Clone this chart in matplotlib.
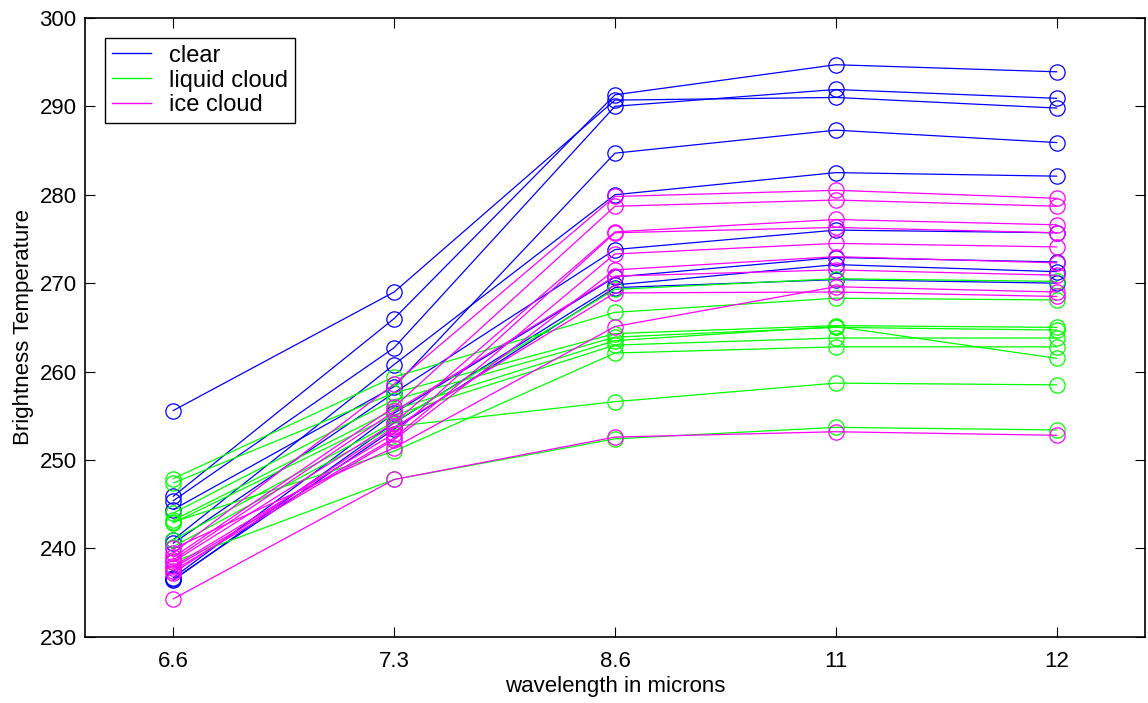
import numpy as np
import matplotlib
matplotlib.use("Agg")
import matplotlib.pyplot as plt
from matplotlib.lines import Line2D

plt.rcParams['font.family'] = ['Liberation Sans', 'DejaVu Sans']

# channel wavelengths (microns), shown as categories
wavelengths = ['6.6', '7.3', '8.6', '11', '12']

# brightness temperatures (K), one row per sample
clear = [
    [255.6, 269.0, 290.7, 291.0, 289.8],
    [245.9, 266.0, 291.3, 294.7, 293.9],
    [245.4, 262.7, 290.0, 291.9, 290.9],
    [244.4, 258.3, 284.7, 287.3, 285.9],
    [241.0, 260.8, 280.0, 282.5, 282.1],
    [240.6, 257.6, 273.8, 276.0, 275.7],
    [236.7, 255.3, 270.7, 272.9, 272.4],
    [236.4, 254.2, 269.8, 272.1, 271.3],
    [236.5, 253.5, 269.5, 270.4, 270.0],
]

liquid = [
    [247.9, 259.4, 266.7, 268.3, 268.1],
    [247.4, 257.6, 264.3, 265.2, 265.0],
    [244.0, 256.8, 263.9, 265.0, 264.7],
    [243.2, 255.7, 263.5, 265.1, 261.5],
    [242.9, 255.1, 263.0, 263.8, 263.8],
    [241.0, 254.3, 269.3, 270.5, 270.2],
    [243.0, 251.0, 262.1, 262.8, 262.8],
    [240.2, 253.8, 256.6, 258.7, 258.5],
    [238.5, 247.8, 252.4, 253.7, 253.4],
]

ice = [
    [239.5, 258.6, 279.8, 280.5, 279.6],
    [239.0, 256.0, 278.7, 279.4, 278.7],
    [238.5, 254.2, 275.8, 277.2, 276.6],
    [238.0, 253.0, 275.7, 276.3, 275.7],
    [237.8, 252.5, 273.3, 274.5, 274.1],
    [237.5, 252.3, 271.5, 273.0, 272.3],
    [238.7, 255.5, 270.8, 271.5, 270.9],
    [237.2, 253.7, 268.9, 269.0, 268.5],
    [240.0, 251.4, 265.1, 269.6, 269.0],
    [234.3, 247.8, 252.6, 253.2, 252.8],
]

groups = [('clear', clear, '#0000ff'),
          ('liquid cloud', liquid, '#00ff00'),
          ('ice cloud', ice, '#ff00ff')]

fig = plt.figure(figsize=(11.48, 7.03), dpi=100)
ax = fig.add_axes([0.074, 0.094, 0.9234, 0.8806])

x = np.arange(1, len(wavelengths) + 1)
for name, rows, col in groups:
    for r in rows:
        ax.plot(x, r, color=col, lw=0.9, marker='o', ms=11, mfc='none',
                mec=col, mew=0.9)

ax.set_xlim(0.6, 5.4)
ax.set_ylim(230, 300)
ax.set_xticks(x)
ax.set_xticklabels(wavelengths)
ax.set_yticks(np.arange(230, 301, 10))
ax.tick_params(direction='in', length=7, width=0.8, labelsize=16,
               top=True, right=True)
ax.tick_params(axis='x', pad=10)
ax.tick_params(axis='y', pad=6)
for s in ax.spines.values():
    s.set_linewidth(1.2)

ax.set_xlabel('wavelength in microns', fontsize=16, labelpad=3)
ax.set_ylabel('Brightness Temperature', fontsize=16, labelpad=4)

handles = [Line2D([0], [0], color=c, lw=1.0) for _, _, c in groups]
leg = ax.legend(handles, [g[0] for g in groups], loc='upper left',
                bbox_to_anchor=(0.019, 0.968), borderaxespad=0,
                fontsize=17, handlelength=1.65, handletextpad=0.75,
                borderpad=0.3, labelspacing=0.12,
                fancybox=False, framealpha=1, edgecolor='black')
leg.get_frame().set_linewidth(1.0)

fig.savefig('out.png', dpi=100)
